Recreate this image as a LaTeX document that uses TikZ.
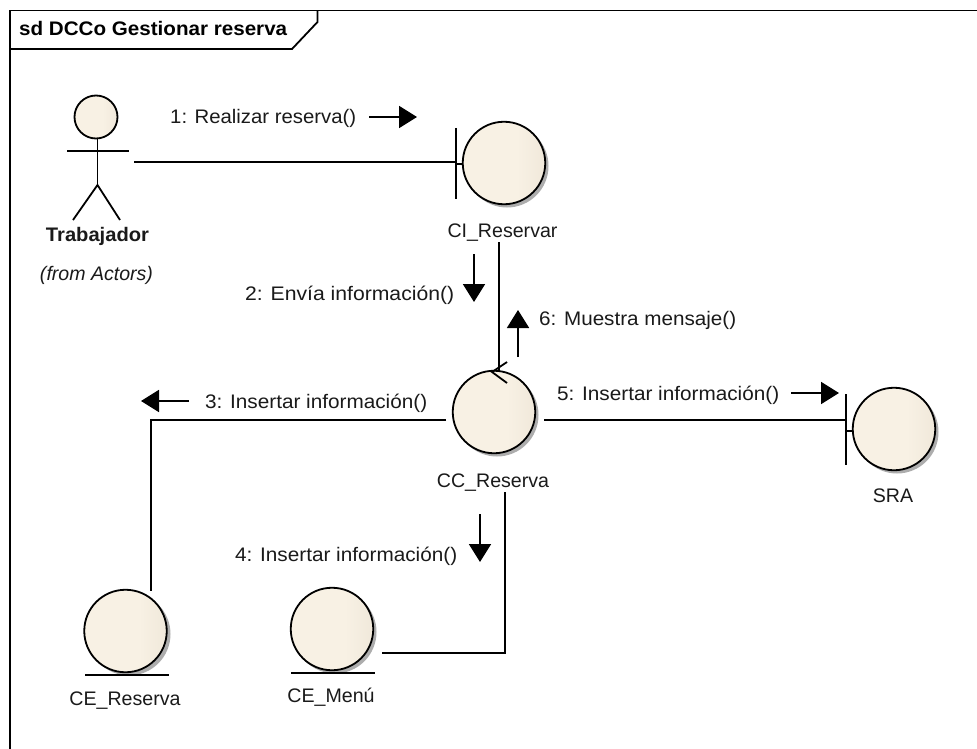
\documentclass[tikz,border=0pt]{standalone}
\usepackage{fontspec}
\usepackage{graphicx}
\setmainfont{Liberation Sans}
\usetikzlibrary{arrows.meta}
\definecolor{robL}{HTML}{F8F1E4}
\definecolor{robR}{HTML}{E4DBCC}
\definecolor{txt}{HTML}{1A1A1A}
\pgfdeclarehorizontalshading{robshade}{100bp}{color(0bp)=(robL); color(50bp)=(robL); color(58bp)=(robL); color(100bp)=(robR)}
\newcommand{\fitw}[2]{\resizebox{#1pt}{\height}{#2}}
\tikzset{
  umlline/.style={draw=black,line width=1.8pt},
  robot/.style={circle,draw=black,line width=1.8pt,minimum size=82.5pt,inner sep=0pt,shading=robshade},
  robotshadow/.style={circle,fill=black!32,minimum size=83pt,inner sep=0pt},
  lbl/.style={font=\fontsize{19.6}{22}\selectfont,text=txt,inner sep=0pt,anchor=base west},
  nametext/.style={font=\fontsize{19.6}{22}\selectfont,text=txt,inner sep=0pt,anchor=base},
  msg/.style={umlline,-{Triangle[length=18pt,width=22pt]}}
}
\begin{document}
\begin{tikzpicture}[x=1pt,y=-1pt]
\useasboundingbox (0,0) rectangle (977,749);
\fill[white] (0,0) rectangle (977,749);
% frame
\draw[umlline] (10,749) -- (10,10.5) -- (977,10.5);
\draw[umlline] (10,49) -- (292,49) -- (317.5,22) -- (317.5,10.5);
\node[inner sep=0pt,anchor=base west,font=\fontsize{19.6}{22}\selectfont\bfseries,text=black] (title) at (19,36) {\fitw{268}{sd DCCo Gestionar reserva}};
% actor
\node[circle,draw=black,line width=1.8pt,minimum size=43pt,inner sep=0pt,shading=robshade] (head) at (96,117) {};
\coordinate (hip) at (97.5,185);
\coordinate (armL) at (67,151);
\coordinate (armR) at (129,151);
\coordinate (legL) at (73,220);
\coordinate (legR) at (120,220);
\draw[umlline] (head.south -| hip) -- (hip);
\draw[umlline] (armL) -- (armR);
\draw[umlline] (legL) -- (hip) -- (legR);
\node[nametext,font=\fontsize{19.6}{22}\selectfont\bfseries] (trab) at (97.5,241) {\fitw{103}{Trabajador}};
\node[nametext,font=\fontsize{19.6}{22}\selectfont\itshape] (from) at (96.5,280) {\fitw{113}{(from Actors)}};
% robustness shapes
\node[robotshadow] at (507,166) {};
\node[robotshadow] at (497,415) {};
\node[robotshadow] at (897,432) {};
\node[robotshadow] at (129,634) {};
\node[robotshadow] at (335,632) {};
\node[robot] (ci) at (504,163) {};
\node[robot] (cc) at (494,412) {};
\node[robot] (sra) at (894,429) {};
\node[robot] (cer) at (125.5,631) {};
\node[robot] (cem) at (332,629) {};
% boundary bars
\coordinate (ciBarT) at (456,128); \coordinate (ciBarB) at (456,199);
\draw[umlline] (ciBarT) -- (ciBarB);
\draw[umlline] (456,164) -- (ci.west |- 0,164);
\coordinate (sraBarT) at (846,394); \coordinate (sraBarB) at (846,465);
\draw[umlline] (sraBarT) -- (sraBarB);
\draw[umlline] (846,431) -- (sra.west |- 0,431);
% entity bars
\draw[umlline] (85,675) -- (169,675);
\draw[umlline] (291,673) -- (375,673);
% names
\node[nametext] (ciN) at (502.5,237) {CI\_Reservar};
\node[nametext] (ccN) at (493,487) {CC\_Reserva};
\node[nametext] (sraN) at (893,502) {SRA};
\node[nametext] (cerN) at (125,705) {CE\_Reserva};
\node[nametext] (cemN) at (331,702) {CE\_Menú};
% connectors
\coordinate (a1) at (134,162); \coordinate (a2) at (456,162);
\draw[umlline] (a1) -- (a2);
\coordinate (b1) at (499,242); \coordinate (b2) at (499,372);
\draw[umlline] (b1) -- (b2);
\draw[umlline] (507,362) -- (492,372) -- (507,383);
\coordinate (c1) at (446,420); \coordinate (c2) at (151,420); \coordinate (c3) at (151,591);
\draw[umlline] (c1) -- (c2) -- (c3);
\coordinate (d1) at (505,492); \coordinate (d2) at (505,653); \coordinate (d3) at (382,653);
\draw[umlline] (d1) -- (d2) -- (d3);
\coordinate (e1) at (544,420); \coordinate (e2) at (846,420);
\draw[umlline] (e1) -- (e2);
% messages
\node[lbl] (m1) at (170,124) {\fitw{186}{1: Realizar reserva()}};
\coordinate (m1a) at (369,117); \coordinate (m1b) at (417,117);
\draw[msg] (m1a) -- (m1b);
\node[lbl] (m2) at (245,300) {\fitw{209}{2: Envía información()}};
\coordinate (m2a) at (474,254); \coordinate (m2b) at (474,302);
\draw[msg] (m2a) -- (m2b);
\node[lbl] (m6) at (539,325) {\fitw{197}{6: Muestra mensaje()}};
\coordinate (m6a) at (518,357); \coordinate (m6b) at (518,310);
\draw[msg] (m6a) -- (m6b);
\node[lbl] (m3) at (205,408) {\fitw{222}{3: Insertar información()}};
\coordinate (m3a) at (189,401); \coordinate (m3b) at (141,401);
\draw[msg] (m3a) -- (m3b);
\node[lbl] (m5) at (557,400) {\fitw{222}{5: Insertar información()}};
\coordinate (m5a) at (791,393); \coordinate (m5b) at (839,393);
\draw[msg] (m5a) -- (m5b);
\node[lbl] (m4) at (235,561) {\fitw{222}{4: Insertar información()}};
\coordinate (m4a) at (480,514); \coordinate (m4b) at (480,562);
\draw[msg] (m4a) -- (m4b);
\end{tikzpicture}
\end{document}
